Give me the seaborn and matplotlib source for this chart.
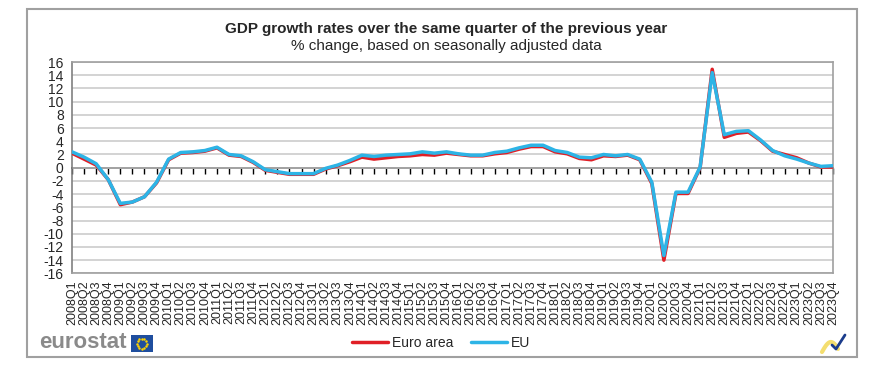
import numpy as np
import pandas as pd
import matplotlib
matplotlib.use("Agg")
import matplotlib.pyplot as plt
import seaborn as sns
from matplotlib.patches import Rectangle

quarters = [f"{y}Q{q}" for y in range(2008, 2024) for q in range(1, 5)]

euro_area = [2.2, 1.3, 0.4, -1.8, -5.6, -5.2, -4.4, -2.3, 1.2, 2.2,
             2.3, 2.5, 3.0, 1.9, 1.7, 0.8, -0.4, -0.7, -1.0, -1.0,
             -1.0, -0.2, 0.3, 0.9, 1.6, 1.3, 1.5, 1.7, 1.8, 2.0,
             1.9, 2.2, 2.0, 1.8, 1.8, 2.1, 2.3, 2.8, 3.2, 3.2,
             2.4, 2.1, 1.4, 1.2, 1.8, 1.7, 1.9, 1.2, -2.4, -14.0,
             -3.9, -3.9, 0.0, 14.9, 4.6, 5.2, 5.4, 4.1, 2.5, 2.0,
             1.5, 0.7, 0.1, 0.1]

eu = [2.4, 1.6, 0.6, -1.8, -5.4, -5.2, -4.4, -2.2, 1.3, 2.3,
      2.4, 2.6, 3.1, 2.0, 1.8, 0.9, -0.3, -0.6, -0.9, -0.9,
      -0.9, -0.1, 0.4, 1.1, 1.9, 1.7, 1.9, 2.0, 2.1, 2.4,
      2.2, 2.4, 2.1, 1.9, 1.9, 2.3, 2.5, 3.0, 3.4, 3.4,
      2.6, 2.3, 1.6, 1.5, 2.0, 1.8, 2.0, 1.3, -2.2, -13.3,
      -3.7, -3.7, 0.1, 14.4, 5.0, 5.5, 5.6, 4.2, 2.6, 1.8,
      1.3, 0.7, 0.2, 0.3]

series_names = ["Euro area", "EU"]
colors = {"Euro area": "#E01F26", "EU": "#2DB4E6"}

df = pd.DataFrame({
    "idx": list(range(len(quarters))) * 2,
    "value": euro_area + eu,
    "series": ["Euro area"] * len(quarters) + ["EU"] * len(quarters),
})

sns.set_style("white")
plt.rcParams["font.family"] = ["Liberation Sans", "DejaVu Sans"]

fig = plt.figure(figsize=(8.79, 3.79), dpi=100)
ax = fig.add_axes([72 / 879, 1 - 273.4 / 379, (833 - 72) / 879, (273.4 - 62) / 379])

sns.lineplot(data=df, x="idx", y="value", hue="series", hue_order=series_names,
             palette=colors, linewidth=2.5, sort=False, ax=ax, legend=False, zorder=3)

n = len(quarters)
ax.set_xlim(0, n - 1)
ax.set_ylim(-16, 16)
ax.set_yticks(np.arange(-16, 17, 2))
ax.set_yticklabels([str(v) for v in range(-16, 17, 2)], fontsize=10)
ax.set_xticks(range(n))
ax.set_xticklabels(quarters, rotation=90, fontsize=9)
ax.tick_params(axis="x", length=0, pad=5)
ax.tick_params(axis="y", length=4, width=1, color="#808080", direction="out", pad=2)
ax.set_xlabel("")
ax.set_ylabel("")
ax.grid(axis="y", color="#C8C8C8", linewidth=1.1)
ax.grid(axis="x", visible=False)
for s in ax.spines.values():
    s.set_color("#A0A0A0")
    s.set_linewidth(1.2)
ax.spines["left"].set_color("#808080")

# category axis crossing at zero, with tick marks
sec = ax.secondary_xaxis(0.49999)
sec.set_xticks(range(n))
sec.tick_params(axis="x", length=4, width=1, color="black", direction="out", labelbottom=False)
sec.spines["bottom"].set_color("black")
sec.spines["bottom"].set_linewidth(1.2)

fig.text(446 / 879, 1 - 29 / 379, "GDP growth rates over the same quarter of the previous year",
         ha="center", va="center", fontsize=11, fontweight="bold")
fig.text(446 / 879, 1 - 46 / 379, "% change, based on seasonally adjusted data",
         ha="center", va="center", fontsize=11)

# outer frame
fig.patches.append(Rectangle((27 / 879, 1 - 357 / 379), (857 - 27) / 879, (357 - 9) / 379,
                             transform=fig.transFigure, fill=False, edgecolor="#A0A0A0", linewidth=1.5))

# legend
handles = [plt.Line2D([], [], color=colors[s], linewidth=2.5) for s in series_names]
fig.legend(handles, series_names, loc="center", bbox_to_anchor=(441 / 879, 1 - 343 / 379),
           ncol=2, frameon=False, fontsize=10, handlelength=2.6, handletextpad=0.25,
           columnspacing=1.3)

# eurostat logo
fig.text(39 / 879, 1 - 343 / 379, "eurostat", ha="left", va="center", fontsize=16,
         fontweight="bold", color="#8A8A8A")
fig.patches.append(Rectangle((131 / 879, 1 - 352 / 379), 22 / 879, 17 / 379,
                             transform=fig.transFigure, facecolor="#1F4E9E", edgecolor="none"))
ang = np.linspace(0, 2 * np.pi, 12, endpoint=False)
fig.add_artist(plt.Line2D((142 + 5 * np.cos(ang)) / 879, (1 - 343.5 / 379) + 5 * np.sin(ang) / 379,
                          linestyle="none", marker="o", markersize=0.8, color="#FFD400",
                          transform=fig.transFigure))

# corner swoosh
t = np.linspace(0, 1, 20)
fig.add_artist(plt.Line2D((822 + 16 * t) / 879, 1 - (352 - 10 * np.sin(t * np.pi * 0.9)) / 379,
                          color="#F2D64B", linewidth=3, transform=fig.transFigure, alpha=0.8))
fig.add_artist(plt.Line2D(np.array([832, 836, 845]) / 879, 1 - np.array([345, 349, 335]) / 379,
                          color="#1B3C8C", linewidth=2, transform=fig.transFigure))

fig.savefig("out.png", dpi=100)
